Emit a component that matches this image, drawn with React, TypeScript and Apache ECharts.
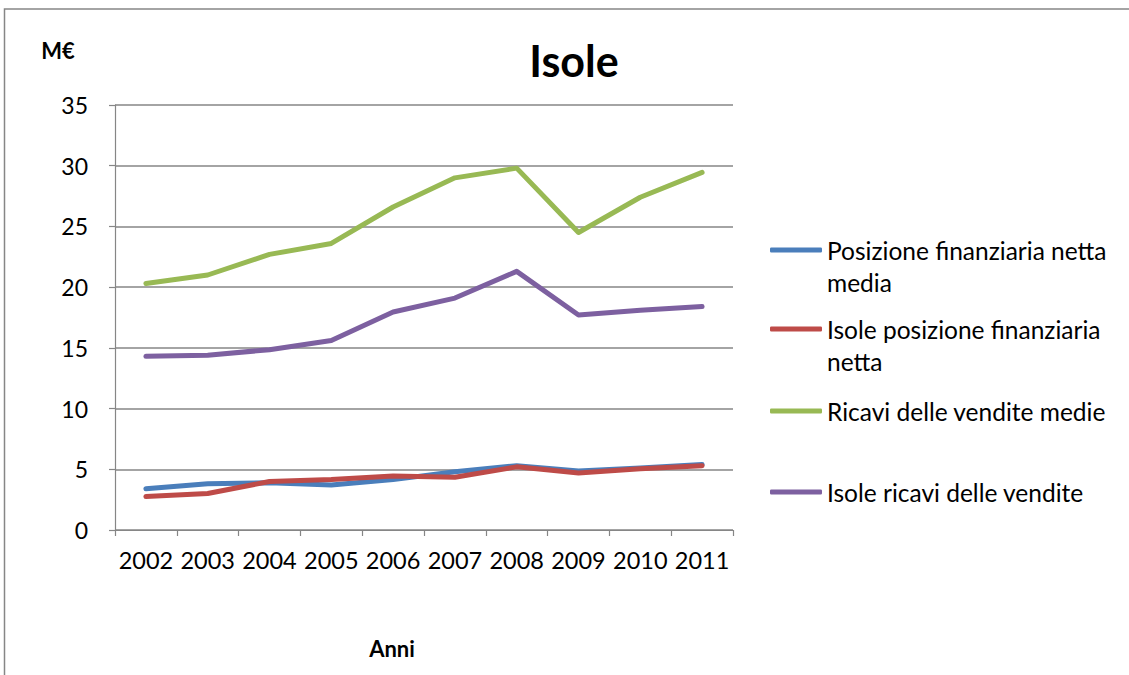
import React, { useEffect, useRef } from "react";
import * as echarts from "echarts";

const years = ["2002", "2003", "2004", "2005", "2006", "2007", "2008", "2009", "2010", "2011"];
const posizioneMedia = [3.4, 3.8, 3.9, 3.7, 4.15, 4.8, 5.3, 4.85, 5.1, 5.4];
const isolePosizione = [2.75, 3.0, 4.0, 4.15, 4.45, 4.35, 5.2, 4.7, 5.05, 5.3];
const ricaviMedie = [20.3, 21.0, 22.7, 23.6, 26.6, 29.0, 29.8, 24.5, 27.4, 29.45];
const isoleRicavi = [14.3, 14.4, 14.85, 15.6, 17.95, 19.1, 21.3, 17.7, 18.1, 18.4];
const seriesNames = [
  "Posizione finanziaria netta media",
  "Isole posizione finanziaria netta",
  "Ricavi delle vendite medie",
  "Isole ricavi delle vendite",
];
const legendLabels = [
  "\nPosizione finanziaria netta\nmedia",
  "\nIsole posizione finanziaria\nnetta",
  "Ricavi delle vendite medie",
  "Isole ricavi delle vendite",
];
const colors = ["#4A7EBB", "#BE4B48", "#98B954", "#7D60A0"];
const yTicks = { min: 0, max: 35, interval: 5 };

const FONT = "Lato";
const GRAY = "#868686";

export default function App() {
  const ref = useRef<HTMLDivElement>(null);
  useEffect(() => {
    if (!ref.current) return;
    const chart = echarts.init(ref.current, undefined, { renderer: "svg" });
    const data = [posizioneMedia, isolePosizione, ricaviMedie, isoleRicavi];
    const legendTops = [202, 281, 395, 476];
    chart.setOption({
      animation: false,
      backgroundColor: "#ffffff",
      textStyle: { fontFamily: FONT },
      grid: { left: 115, right: 396, top: 105, bottom: 145 },
      xAxis: {
        type: "category",
        data: years,
        boundaryGap: true,
        axisLine: { lineStyle: { color: GRAY, width: 1.2 } },
        axisTick: { show: true, length: 6, inside: false, lineStyle: { color: GRAY, width: 1.2 } },
        axisLabel: { color: "#000", fontSize: 23.5, fontFamily: FONT, margin: 18, interval: 0 },
        splitLine: { show: false },
      },
      yAxis: {
        type: "value",
        min: yTicks.min,
        max: yTicks.max,
        interval: yTicks.interval,
        axisLine: { show: true, lineStyle: { color: GRAY, width: 1.2 } },
        axisTick: { show: true, length: 6, lineStyle: { color: GRAY, width: 1.2 } },
        axisLabel: { color: "#000", fontSize: 23, fontFamily: FONT, margin: 27 },
        splitLine: { show: true, lineStyle: { color: GRAY, width: 1.5 } },
      },
      legend: seriesNames.map((name, i) => ({
        data: [name],
        orient: "vertical",
        left: 770,
        top: legendTops[i],
        padding: 0,
        icon: "roundRect",
        itemWidth: 52,
        itemHeight: 5,
        itemGap: 0,
        selectedMode: false,
        formatter: () => legendLabels[i],
        textStyle: { color: "#000", fontSize: 24.5, fontFamily: FONT, lineHeight: 32 },
      })),
      series: seriesNames.map((name, i) => ({
        name,
        type: "line",
        data: data[i],
        symbol: "none",
        color: colors[i],
        lineStyle: { color: colors[i], width: 5, cap: "round", join: "round" },
        z: 2 + i,
      })),
      graphic: [
        {
          type: "rect",
          shape: { x: 4.5, y: 9, width: 1300, height: 900 },
          style: { fill: "none", stroke: GRAY, lineWidth: 1.5 },
          silent: true,
        },
        {
          type: "text",
          x: 574,
          y: 60,
          style: {
            text: "Isole",
            fontFamily: FONT,
            fontSize: 43,
            fontWeight: "bold",
            fill: "#000",
            align: "center",
            verticalAlign: "middle",
          },
        },
        {
          type: "text",
          x: 58,
          y: 50,
          style: {
            text: "M€",
            fontFamily: FONT,
            fontSize: 22,
            fontWeight: "bold",
            fill: "#000",
            align: "center",
            verticalAlign: "middle",
          },
        },
        {
          type: "text",
          x: 392,
          y: 648,
          style: {
            text: "Anni",
            fontFamily: FONT,
            fontSize: 22,
            fontWeight: "bold",
            fill: "#000",
            align: "center",
            verticalAlign: "middle",
          },
        },
      ],
    });
    return () => chart.dispose();
  }, []);
  return (
    <div
      ref={ref}
      style={{ position: "absolute", left: 0, top: 0, width: 1129, height: 675 }}
    />
  );
}
